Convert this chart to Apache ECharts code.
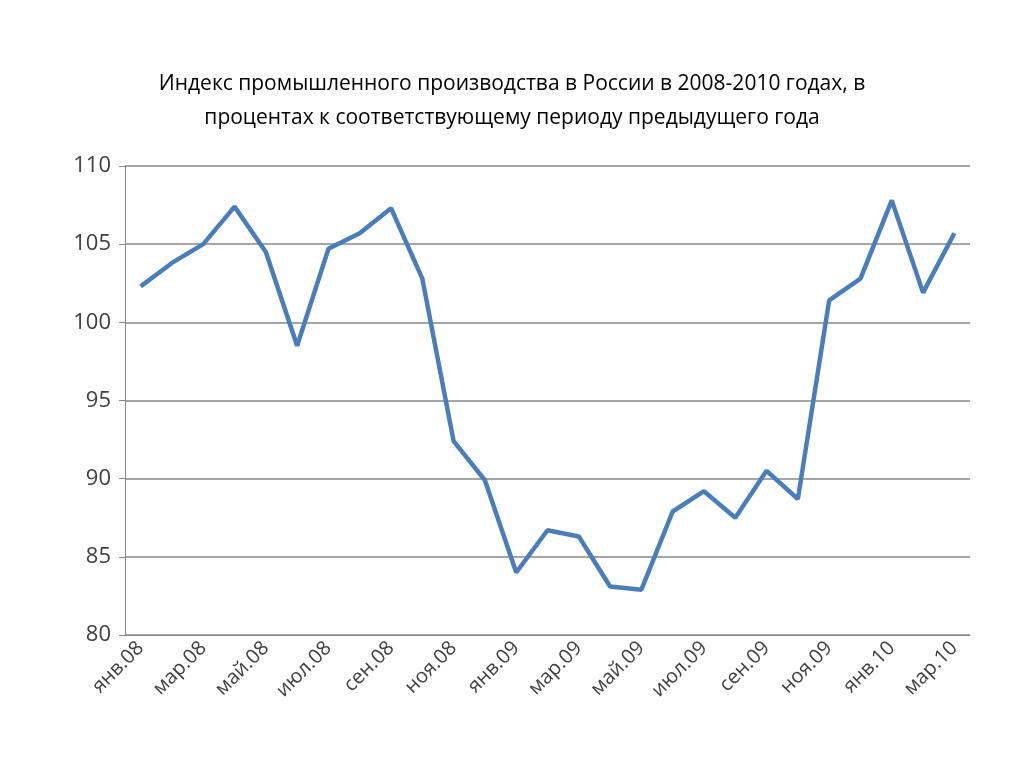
<!DOCTYPE html>
<html><head><meta charset="utf-8">
<script src="https://cdn.jsdelivr.net/npm/echarts@6/dist/echarts.min.js"></script>
<style>html,body{margin:0;background:#fff}#c{width:1024px;height:768px}</style>
</head><body><div id="c"></div>
<script>
const months = ["янв.08","фев.08","мар.08","апр.08","май.08","июн.08","июл.08","авг.08","сен.08","окт.08","ноя.08","дек.08",
  "янв.09","фев.09","мар.09","апр.09","май.09","июн.09","июл.09","авг.09","сен.09","окт.09","ноя.09","дек.09",
  "янв.10","фев.10","мар.10"];
const index = [102.3,103.8,105.0,107.4,104.5,98.5,104.7,105.7,107.3,102.8,92.4,89.9,
  84.0,86.7,86.3,83.1,82.9,87.9,89.2,87.5,90.5,88.7,101.4,102.8,107.8,101.9,105.7];

const chart = echarts.init(document.getElementById("c"));
chart.setOption({
  animation: false,
  title: {
    text: "Индекс промышленного производства в России в 2008-2010 годах, в\nпроцентах к соответствующему периоду предыдущего года",
    left: "center", top: 62,
    textStyle: {fontFamily: "Open Sans", fontSize: 21, fontWeight: "normal", color: "#000", lineHeight: 34}
  },
  grid: {left: 125, right: 54, top: 166, bottom: 133},
  xAxis: {
    type: "category", data: months, boundaryGap: true,
    axisLine: {lineStyle: {color: "#888"}},
    axisTick: {interval: 1, length: 6, lineStyle: {color: "#888"}},
    axisLabel: {interval: 1, rotate: 45, fontFamily: "Open Sans", fontSize: 20, color: "#404040", margin: 10}
  },
  yAxis: {
    type: "value", min: 80, max: 110, interval: 5,
    axisLine: {show: true, lineStyle: {color: "#888"}},
    axisTick: {show: true, length: 6, lineStyle: {color: "#888"}},
    splitLine: {lineStyle: {color: "#888", width: 1.5}},
    axisLabel: {fontFamily: "Open Sans", fontSize: 22, color: "#404040", margin: 14}
  },
  series: [{
    type: "line", data: index, symbol: "none",
    lineStyle: {color: "#4a7ebb", width: 4.5}
  }]
});
</script></body></html>
